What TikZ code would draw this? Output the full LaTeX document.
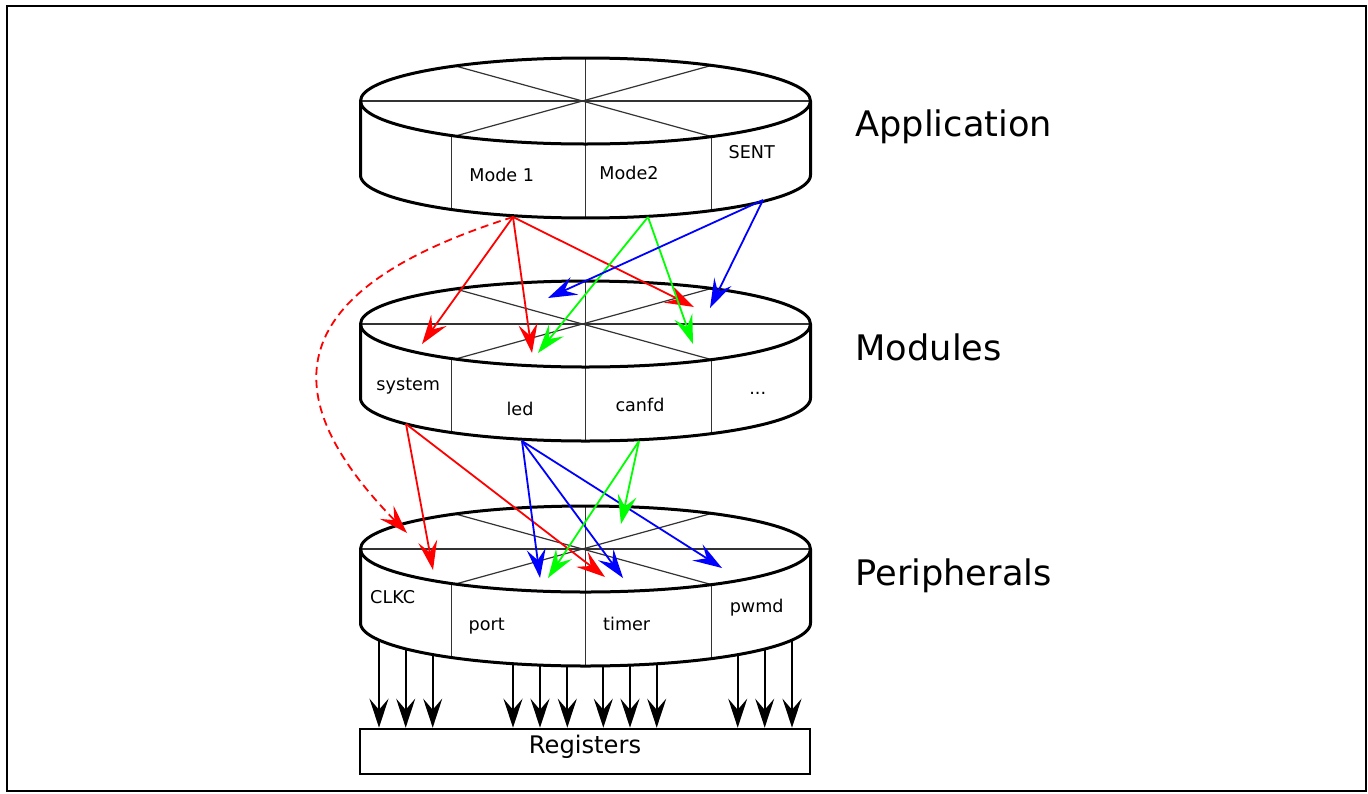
\documentclass[tikz,border=0pt]{standalone}
\usepackage{fontspec}
\setmainfont{DejaVu Sans}
\usetikzlibrary{arrows.meta}
\newcommand\drumshape[2]{%
  \pgfmathsetmacro\drumX{#1}\pgfmathsetmacro\drumT{#2}\pgfmathsetmacro\drumB{#2+74}%
  \fill[white] (\drumX-225,\drumT) -- (\drumX-225,\drumB) -- plot[domain=180:360,samples=90] ({\drumX+225*cos(\x)},{\drumB-43*sin(\x)}) -- (\drumX+225,\drumT) -- cycle;
  \fill[white] (\drumX,\drumT) ellipse [x radius=112.5pt, y radius=21.5pt];
  \draw[thinline] (\drumX-225,\drumT) -- (\drumX+225,\drumT);
  \draw[thinline] (\drumX,\drumT-43) -- (\drumX,\drumB+43);
  \draw[thinline] (\drumX-130,\drumT-35) -- (\drumX+126,\drumT+35.6);
  \draw[thinline] (\drumX+126,\drumT-35.6) -- (\drumX-130,\drumT+35);
  \draw[thinline] (\drumX-134,\drumT+34.5) -- (\drumX-134,\drumB+34.5);
  \draw[thinline] (\drumX+126,\drumT+35.6) -- (\drumX+126,\drumB+35.6);
  \draw[outline] (\drumX-225,\drumT) -- (\drumX-225,\drumB) -- plot[domain=180:360,samples=90] ({\drumX+225*cos(\x)},{\drumB-43*sin(\x)}) -- (\drumX+225,\drumT);
  \draw[outline] (\drumX,\drumT) ellipse [x radius=112.5pt, y radius=21.5pt];
}
\begin{document}
\begin{tikzpicture}[x=0.5pt,y=-0.5pt,
  >={Stealth[length=14.5pt,width=9.5pt,inset=5.5pt]},
  thinline/.style={line width=0.6pt,draw=black!80},
  outline/.style={line width=1.5pt,draw=black,line join=round},
  small/.style={font=\fontsize{8.8pt}{10pt}\selectfont,inner sep=0pt,anchor=base},
  big/.style={font=\fontsize{17.6pt}{20pt}\selectfont,inner sep=0pt,anchor=base west},
  carrow/.style={->,line width=0.9pt},
  barrow/.style={->,line width=1pt,draw=black}]
\useasboundingbox (0,0) rectangle (1368,793);
\draw[line width=1pt] (7,6) rectangle (1366,791);

% drums
\drumshape{585.5}{101}
\drumshape{585.5}{324}
\drumshape{585.5}{549}

% drum labels
\node[small] (mode1) at (501.7,181) {Mode 1};
\node[small] (mode2) at (629,179.7) {Mode2};
\node[small] (sent) at (751.7,158.3) {SENT};
\node[small] (system) at (408.3,390) {system};
\node[small] (led) at (520,415) {led};
\node[small] (canfd) at (640,411.7) {canfd};
\node[small] (dots) at (757.7,394) {...};
\node[small] (clkc) at (392.7,603.3) {CLKC};
\node[small] (port) at (486.7,630) {port};
\node[small] (timer) at (626.7,630) {timer};
\node[small] (pwmd) at (756.7,612.3) {pwmd};

% layer labels
\node[big] (lapp) at (855,136.7) {Application};
\node[big] (lmod) at (855,360) {Modules};
\node[big] (lper) at (855,585) {Peripherals};

% registers
\node[draw,line width=1pt,minimum width=225pt,minimum height=22.6pt,inner sep=0pt] (reg) at (585,751.3) {};
\node[font=\fontsize{12.1pt}{14pt}\selectfont,inner sep=0pt,anchor=base] (regtext) at (585,753.3) {Registers};

% coordinates
\coordinate (aR) at (513,217);
\coordinate (aG) at (648,217);
\coordinate (aB) at (763,200);
\coordinate (mR) at (406,424);
\coordinate (mB) at (522,441);
\coordinate (mG) at (639,441);

\coordinate (tR1) at (422,344);
\coordinate (tR2) at (532,353);
\coordinate (tR3) at (694,307);
\coordinate (tRd) at (407,533);
\coordinate (tG1) at (538,353);
\coordinate (tG2) at (693,344);
\coordinate (tB1) at (548,298);
\coordinate (tB2) at (710,308);

\coordinate (uR1) at (433,570);
\coordinate (uR2) at (605,577);
\coordinate (uB1) at (540,578);
\coordinate (uB2) at (623,578);
\coordinate (uB3) at (722,568);
\coordinate (uG1) at (621,524);
\coordinate (uG2) at (548,578);

% application -> modules
\draw[carrow,red] (aR) -- (tR1);
\draw[carrow,red] (aR) -- (tR2);
\draw[carrow,red] (aR) -- (tR3);
\draw[carrow,red,dash pattern=on 4pt off 2.5pt] (aR) .. controls (280,290) and (272,395) .. (tRd);
\draw[carrow,green] (aG) -- (tG1);
\draw[carrow,green] (aG) -- (tG2);
\draw[carrow,blue] (aB) -- (tB1);
\draw[carrow,blue] (aB) -- (tB2);

% modules -> peripherals
\draw[carrow,red] (mR) -- (uR1);
\draw[carrow,red] (mR) -- (uR2);
\draw[carrow,blue] (mB) -- (uB1);
\draw[carrow,blue] (mB) -- (uB2);
\draw[carrow,blue] (mB) -- (uB3);
\draw[carrow,green] (mG) -- (uG1);
\draw[carrow,green] (mG) -- (uG2);

% peripherals -> registers
\foreach \px/\py [count=\i] in {379/640.1,405.7/648.9,432.7/654.6,513/663.7,540/665.1,567.3/665.9,603.3/665.9,630/665.1,656.7/663.8,737.7/654.7,764.7/649,792/640.1}{
  \coordinate (p\i) at (\px,\py);
  \draw[barrow] (p\i) -- (p\i |- reg.north);
}
\end{tikzpicture}
\end{document}
